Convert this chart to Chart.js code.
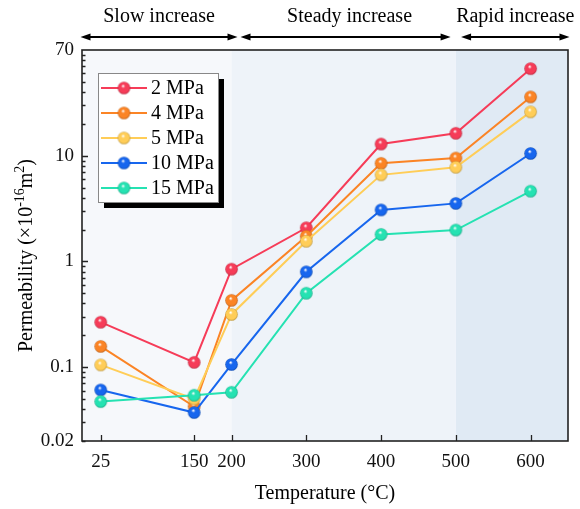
<!DOCTYPE html>
<html>
<head>
<meta charset="utf-8">
<script src="https://cdn.jsdelivr.net/npm/chart.js@4.4.0/dist/chart.umd.min.js"></script>
<style>
  html, body { margin: 0; padding: 0; background: #fff; }
  #wrap { width: 580px; height: 509px; }
</style>
</head>
<body>
<div id="wrap"><canvas id="c" width="580" height="509"></canvas></div>
<script>
// Permeability vs temperature, one line per confining pressure (log y).

const temps = [25, 150, 200, 300, 400, 500, 600];
const p2  = [0.266, 0.111, 0.845, 2.08, 12.9, 16.3, 66.6];
const p4  = [0.157, 0.0424, 0.428, 1.73, 8.47, 9.5, 36];
const p5  = [0.105, 0.050, 0.315, 1.55, 6.59, 7.77, 26];
const p10 = [0.0608, 0.0372, 0.106, 0.797, 3.07, 3.54, 10.5];
const p15 = [0.0472, 0.0542, 0.0578, 0.50, 1.80, 1.98, 4.62];

const seriesLabels = ['2 MPa', '4 MPa', '5 MPa', '10 MPa', '15 MPa'];
const seriesValues = [p2, p4, p5, p10, p15];
const seriesColors = ['#f63c58', '#fb8425', '#ffcd57', '#1766ee', '#25e2b2'];

const xTicks = [25, 150, 200, 300, 400, 500, 600];
const yTicks = [0.02, 0.1, 1, 10, 100];
const yTickLabels = ['0.02', '0.1', '1', '10', '70'];

// stage bands along the temperature axis
const stageNames = ['Slow increase', 'Steady increase', 'Rapid increase'];
const stageBounds = [0, 200, 500, 650];
const stageFills = ['#f6f8fb', '#eef3f9', '#e0eaf4'];

const SERIF = '"Liberation Serif", "Times New Roman", serif';

// glossy sphere marker drawn once per colour
function sphere(color) {
  const s = 15, r = 6.3, c = s / 2;
  const cv = document.createElement('canvas');
  cv.width = s; cv.height = s;
  const g = cv.getContext('2d');
  const grad = g.createRadialGradient(c - 1, c - 2.2, 0.3, c, c, r);
  grad.addColorStop(0, '#ffffff');
  grad.addColorStop(0.28, color);
  grad.addColorStop(0.8, color);
  grad.addColorStop(1, shade(color, -0.25));
  g.beginPath();
  g.arc(c, c, r, 0, Math.PI * 2);
  g.fillStyle = grad;
  g.fill();
  return cv;
}
function shade(hex, k) {
  const n = parseInt(hex.slice(1), 16);
  const ch = [(n >> 16) & 255, (n >> 8) & 255, n & 255].map(v =>
    Math.round(k < 0 ? v * (1 + k) : v + (255 - v) * k));
  return 'rgb(' + ch.join(',') + ')';
}
const markers = seriesColors.map(sphere);

function arrow(ctx, x1, x2, y) {
  const hl = 10, hw = 3.5;
  ctx.beginPath();
  ctx.moveTo(x1 + hl - 2, y); ctx.lineTo(x2 - hl + 2, y);
  ctx.stroke();
  ctx.beginPath();
  ctx.moveTo(x1, y); ctx.lineTo(x1 + hl, y - hw); ctx.lineTo(x1 + hl, y + hw); ctx.closePath();
  ctx.moveTo(x2, y); ctx.lineTo(x2 - hl, y - hw); ctx.lineTo(x2 - hl, y + hw); ctx.closePath();
  ctx.fill();
}

const decor = {
  id: 'decor',
  beforeDatasetsDraw(chart) {
    const { ctx, chartArea: a, scales: { x } } = chart;
    ctx.save();
    for (let i = 0; i < stageFills.length; i++) {
      const l = x.getPixelForValue(stageBounds[i]);
      const r = x.getPixelForValue(stageBounds[i + 1]);
      ctx.fillStyle = stageFills[i];
      ctx.fillRect(l, a.top, r - l, a.bottom - a.top);
    }
    ctx.restore();
  },
  afterDraw(chart) {
    const { ctx, chartArea: a, scales: { x, y } } = chart;
    ctx.save();
    ctx.strokeStyle = '#222';
    ctx.fillStyle = '#111';

    // inward ticks
    ctx.lineWidth = 1.3;
    ctx.beginPath();
    xTicks.forEach(v => {
      const px = Math.round(x.getPixelForValue(v)) + 0.5;
      ctx.moveTo(px, a.bottom); ctx.lineTo(px, a.bottom - 6);
    });
    for (let e = -2; e <= 1; e++) {
      for (let m = 1; m <= 9; m++) {
        const v = m * Math.pow(10, e);
        if (v < y.min || v > y.max) continue;
        const py = Math.round(y.getPixelForValue(v)) + 0.5;
        const len = (m === 1) ? 6 : 3.5;
        ctx.moveTo(a.left, py); ctx.lineTo(a.left + len, py);
      }
    }
    ctx.stroke();

    // frame
    ctx.lineWidth = 1.6;
    ctx.strokeRect(a.left, a.top, a.right - a.left, a.bottom - a.top);

    // stage arrows and names
    ctx.lineWidth = 2;
    ctx.fillStyle = '#000';
    ctx.strokeStyle = '#000';
    const gaps = [[-2, 208], [212, 493], [507, 652]];
    ctx.font = '20px ' + SERIF;
    ctx.textAlign = 'center';
    ctx.textBaseline = 'middle';
    gaps.forEach((g, i) => {
      const l = x.getPixelForValue(g[0]);
      const r = x.getPixelForValue(g[1]);
      arrow(ctx, l, r, 37);
      ctx.fillText(stageNames[i], (l + r) / 2 + (i === 1 ? 4 : 0), 17);
    });

    // x title
    ctx.fillText('Temperature (\u00b0C)', (a.left + a.right) / 2, 494);

    // y title with superscripts
    ctx.save();
    ctx.translate(27, (a.top + a.bottom) / 2 + 10);
    ctx.rotate(-Math.PI / 2);
    const parts = [['Permeability (\u00d710', 0], ['-16', 1], ['m', 0], ['2', 1], [')', 0]];
    const big = '20px ' + SERIF, small = '14px ' + SERIF;
    let w = 0;
    parts.forEach(p => { ctx.font = p[1] ? small : big; w += ctx.measureText(p[0]).width; });
    let cx = -w / 2;
    ctx.textAlign = 'left';
    parts.forEach(p => {
      ctx.font = p[1] ? small : big;
      ctx.fillText(p[0], cx, p[1] ? -7 : 0);
      cx += ctx.measureText(p[0]).width;
    });
    ctx.restore();

    // legend box with drop shadow (series order, not draw order)
    const bx = 98, by = 73, bw = 120, bh = 129;
    ctx.fillStyle = '#000';
    ctx.fillRect(bx + 6, by + 6, bw, bh);
    ctx.fillStyle = '#fff';
    ctx.fillRect(bx, by, bw, bh);
    ctx.lineWidth = 1;
    ctx.strokeStyle = '#888';
    ctx.strokeRect(bx + 0.5, by + 0.5, bw, bh);
    ctx.font = '20px ' + SERIF;
    ctx.textAlign = 'left';
    ctx.textBaseline = 'middle';
    seriesLabels.forEach((lab, i) => {
      const ry = by + 15 + i * 25;
      ctx.strokeStyle = seriesColors[i];
      ctx.lineWidth = 2;
      ctx.beginPath(); ctx.moveTo(bx + 3, ry); ctx.lineTo(bx + 49, ry); ctx.stroke();
      ctx.drawImage(markers[i], bx + 26 - 7.5, ry - 7.5);
      ctx.fillStyle = '#000';
      ctx.fillText(lab, bx + 53, ry + 1);
    });
    ctx.restore();
  }
};

// reversed so the higher-pressure series sit on top, as in the figure
const datasets = seriesLabels.map((lab, i) => ({
  label: lab,
  data: temps.map((t, j) => ({ x: t, y: seriesValues[i][j] })),
  borderColor: seriesColors[i],
  backgroundColor: seriesColors[i],
  borderWidth: 2,
  pointStyle: markers[i],
  pointRadius: 7,
  tension: 0
})).reverse();

new Chart(document.getElementById('c'), {
  type: 'line',
  data: { datasets },
  options: {
    responsive: false,
    animation: false,
    devicePixelRatio: 1,
    layout: { padding: { top: 50, right: 12, left: 0, bottom: 0 } },
    plugins: { legend: { display: false }, tooltip: { enabled: false } },
    scales: {
      x: {
        type: 'linear', min: 0, max: 650,
        grid: { display: false, drawTicks: false },
        border: { display: false },
        afterBuildTicks: s => { s.ticks = xTicks.map(v => ({ value: v })); },
        afterFit: s => { s.height = 68; },
        ticks: {
          padding: 10, color: '#111', maxRotation: 0, autoSkip: false,
          font: { family: SERIF, size: 19 },
          callback: v => String(v)
        }
      },
      y: {
        type: 'logarithmic', min: 0.02, max: 100,
        grid: { display: false, drawTicks: false },
        border: { display: false },
        afterBuildTicks: s => { s.ticks = yTicks.map(v => ({ value: v })); },
        afterFit: s => { s.width = 82; },
        ticks: {
          padding: 8, color: '#111', autoSkip: false,
          font: { family: SERIF, size: 19 },
          callback: v => yTickLabels[yTicks.indexOf(v)]
        }
      }
    }
  },
  plugins: [decor]
});
</script>
</body>
</html>
